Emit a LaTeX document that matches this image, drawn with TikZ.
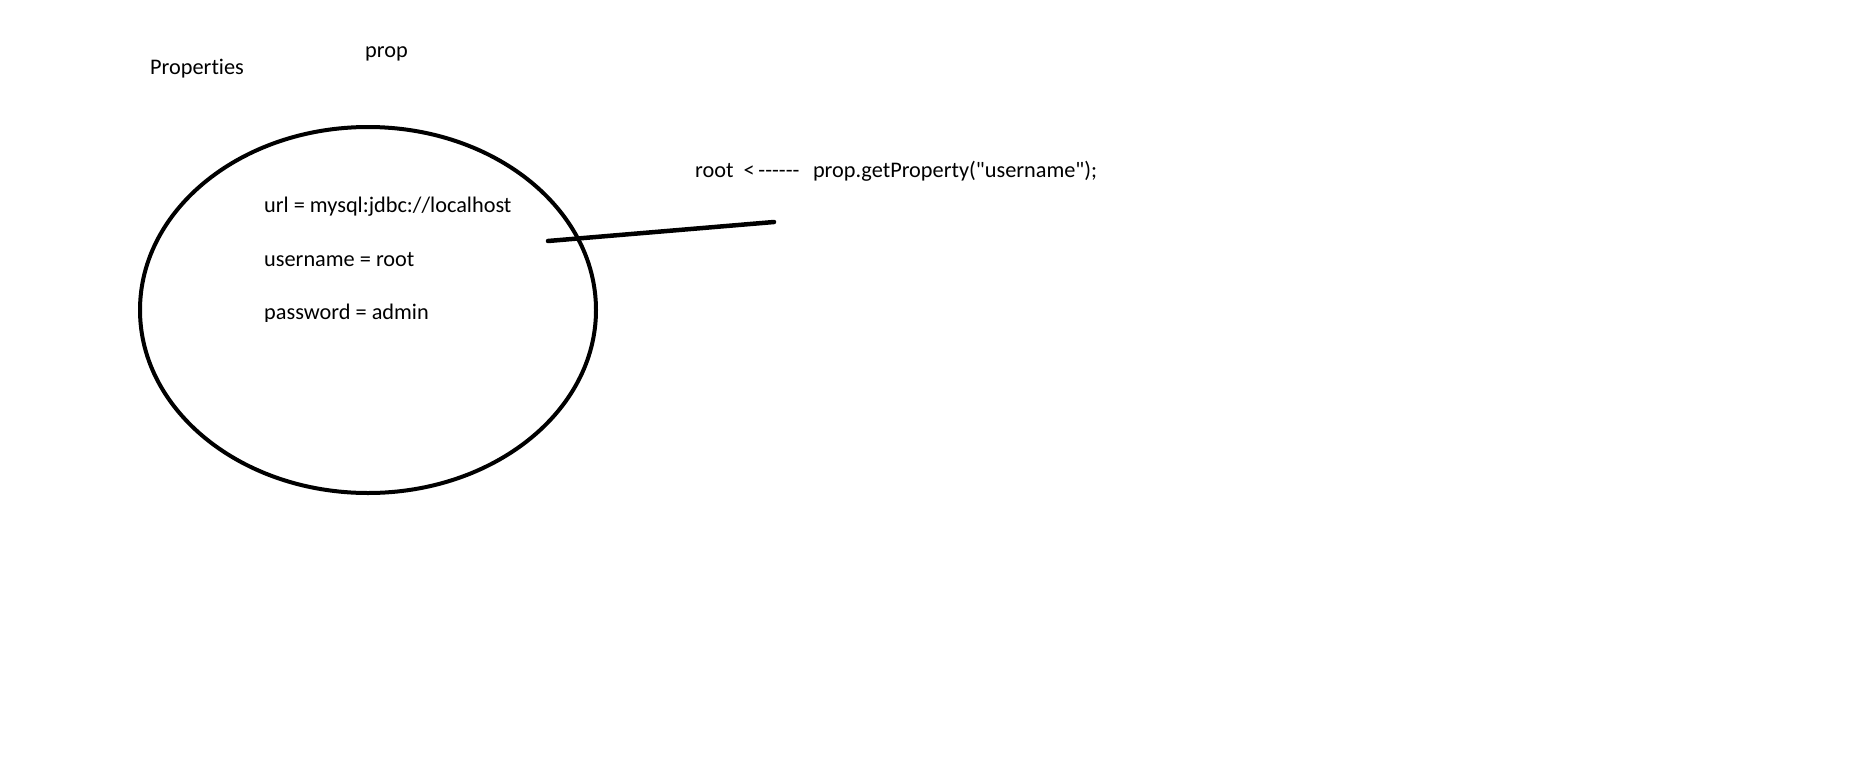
\documentclass[tikz,border=0pt]{standalone}
\usepackage{fontspec}
\setmainfont{Carlito}[Ligatures={TeXOff,NoCommon}]
\usetikzlibrary{shapes.geometric}
\begin{document}
\begin{tikzpicture}[x=1pt,y=-1pt,
  lbl/.style={inner sep=0pt,anchor=base west,font=\fontsize{22.3}{26}\selectfont},
  stroke/.style={line width=4.5pt,line cap=round}]
\useasboundingbox[fill=white] (0,0) rectangle (1866,769);
\node[lbl] (properties) at (150,74) {Properties};
\node[lbl] (prop) at (365,57) {prop};
\node[draw,line width=4pt,ellipse,minimum width=456pt,minimum height=366pt,inner sep=0pt] (obj) at (368,310) {};
\node[lbl] (url) at (264,212) {url = mysql:jdbc://localhost};
\node[lbl] (user) at (264,266) {username = root};
\node[lbl] (pass) at (264,319) {password = admin};
\fill[white] (262,321.5) rectangle (380,330);
\node[lbl] (call) at (695,177) {root \ {<}\,------ \ \hspace{3.5pt}prop.getProperty("username");};
\coordinate (la) at (548,241);
\coordinate (lb) at (774,222);
\draw[stroke] (la) -- (lb);
\end{tikzpicture}
\end{document}
